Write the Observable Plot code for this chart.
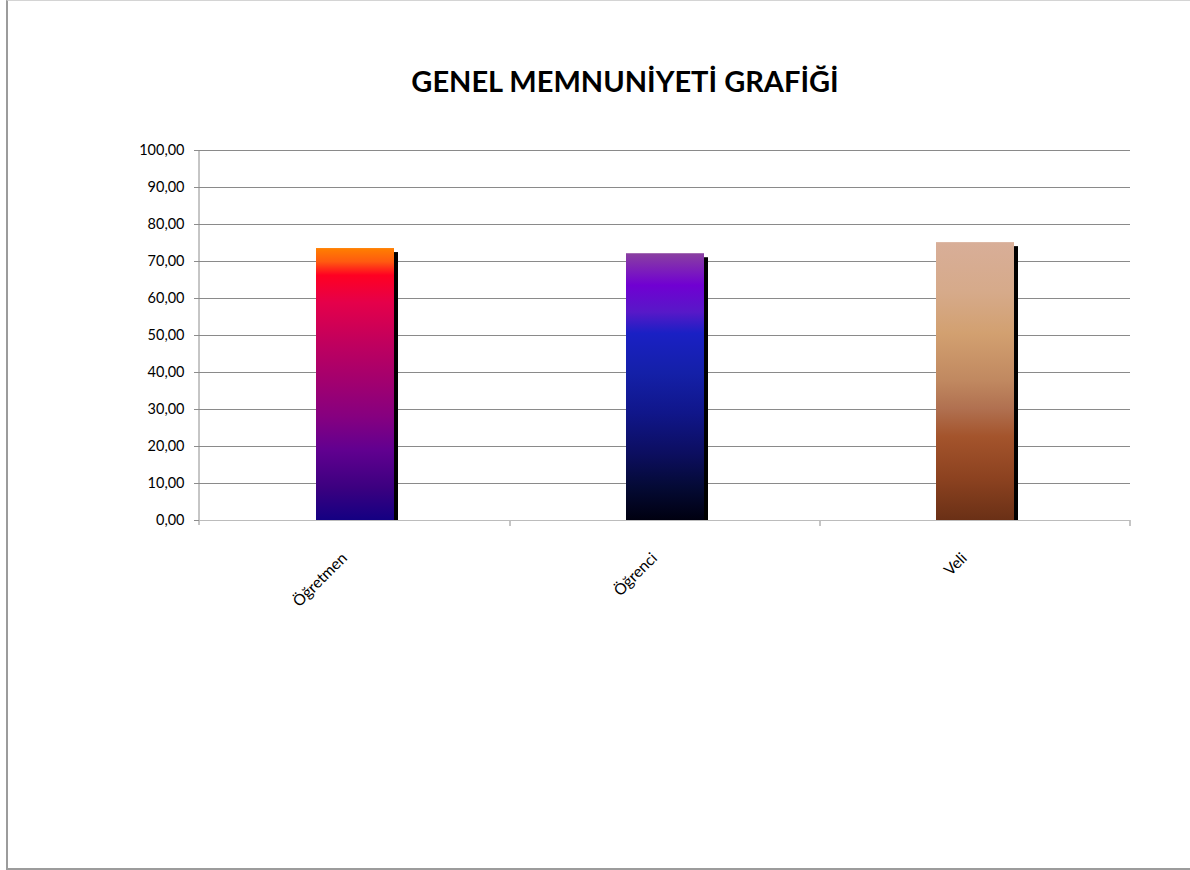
<!DOCTYPE html>
<html>
<head>
<meta charset="utf-8">
<script src="https://cdn.jsdelivr.net/npm/d3@7"></script>
<script src="https://cdn.jsdelivr.net/npm/@observablehq/plot@0.6"></script>
<style>
  html, body { margin: 0; padding: 0; background: #fff; overflow: hidden; }
  #page { position: relative; width: 1190px; height: 870px; }
  #border { position: absolute; left: 6px; top: 0; width: 1200px; height: 867px;
            border-left: 2px solid #9c9c9c; border-top: 1px solid #d4d4d4; border-bottom: 2px solid #9c9c9c; box-sizing: content-box; }
  #title { position: absolute; top: 63px; left: 275px; width: 700px; text-align: center;
           font-family: Lato, "Open Sans", sans-serif; font-weight: bold; font-size: 29px; color: #000; }
  #chart { position: absolute; left: 0; top: 120px; }
</style>
</head>
<body>
<div id="page">
  <div id="border"></div>
  <div id="title">GENEL MEMNUNİYETİ GRAFİĞİ</div>
  <div id="chart"></div>
</div>
<script>
// ---- data ----
const categories = ["Öğretmen", "Öğrenci", "Veli"];
const values = [73.5, 72.1, 75.1];
const yTicks = [0, 10, 20, 30, 40, 50, 60, 70, 80, 90, 100];

// ---- styles (gradient stops, top to bottom) ----
const gradientStops = [
  [[0, "#ff8000"], [0.05, "#ff5a10"], [0.1, "#ff0022"], [0.2, "#e5004a"], [0.35, "#c0005e"], [0.5, "#a00070"], [0.62, "#860080"], [0.74, "#620090"], [0.88, "#3c0080"], [1, "#140082"]],
  [[0, "#8a40a0"], [0.12, "#7000d2"], [0.22, "#5818c8"], [0.3, "#1a20c4"], [0.45, "#1420a8"], [0.6, "#10168a"], [0.75, "#0c0e60"], [0.88, "#040a34"], [1, "#000010"]],
  [[0, "#d8ae98"], [0.18, "#d6aa8a"], [0.33, "#d2a070"], [0.5, "#c08860"], [0.6, "#b07050"], [0.7, "#a4542c"], [0.85, "#8c4220"], [1, "#6a3016"]]
];
const gradIds = categories.map((_, i) => `grad${i}`);

const data = categories.map((c, i) => ({cat: c, value: values[i]}));
const fmt = d => d.toFixed(2).replace(".", ",");

function decorations(index, scales, vals, dims) {
  const g = d3.create("svg:g");
  const defs = g.append("defs");
  gradientStops.forEach((stops, i) => {
    const lg = defs.append("linearGradient").attr("id", gradIds[i])
      .attr("x1", 0).attr("y1", 0).attr("x2", 0).attr("y2", 1);
    stops.forEach(([o, c]) => lg.append("stop").attr("offset", o).attr("stop-color", c));
  });
  const x = scales.x, y = scales.y;
  const left = dims.marginLeft, right = dims.width - dims.marginRight;
  const y0 = y(0), yTop = y(100);
  // y axis line
  g.append("line").attr("x1", left).attr("x2", left).attr("y1", yTop).attr("y2", y0 + 5)
    .attr("stroke", "#8c8c8c");
  // band boundary ticks on x axis
  const step = x.step ? x.step() : (right - left) / categories.length;
  const bw = x.bandwidth ? x.bandwidth() : 0;
  categories.forEach(c => {
    const b = x(c) + bw / 2 + step / 2;
    g.append("line").attr("x1", b).attr("x2", b).attr("y1", y0).attr("y2", y0 + 6)
      .attr("stroke", "#8c8c8c");
  });
  return g.node();
}

const chart = Plot.plot({
  width: 1190,
  height: 750,
  marginLeft: 199,
  marginRight: 60,
  marginTop: 30,
  marginBottom: 350,
  style: {fontFamily: "Lato, 'Open Sans', sans-serif", background: "transparent"},
  x: {domain: categories, paddingInner: 0.75, paddingOuter: 0.375, label: null},
  y: {domain: [0, 100], label: null},
  color: {domain: categories, range: gradIds.map(id => `url(#${id})`)},
  marks: [
    decorations,
    Plot.gridY(yTicks, {stroke: "#8a8a8a", strokeOpacity: 1}),
    Plot.ruleY([0], {stroke: "#bcbcbc"}),
    Plot.axisY(yTicks, {tickSize: 5, tickPadding: 10, tickFormat: fmt, fontSize: 14.5, fill: "#000", stroke: "#8c8c8c", label: null}),
    Plot.axisX({tickSize: 0, tickRotate: -45, tickPadding: 35, dx: -11, fontSize: 15.5, fill: "#000", label: null}),
    Plot.barY(data, {x: "cat", y: "value", fill: "#000", dx: 4, dy: 4, insetBottom: 4}),
    Plot.barY(data, {x: "cat", y: "value", fill: "cat"})
  ]
});
document.getElementById("chart").appendChild(chart);
</script>
</body>
</html>
